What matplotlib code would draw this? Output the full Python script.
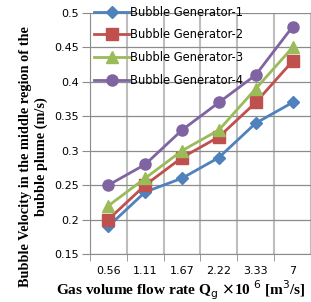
import matplotlib.pyplot as plt
import numpy as np

categories = ["0.56", "1.11", "1.67", "2.22", "3.33", "7"]
bg1 = [0.19, 0.24, 0.26, 0.29, 0.34, 0.37]
bg2 = [0.20, 0.25, 0.29, 0.32, 0.37, 0.43]
bg3 = [0.22, 0.26, 0.30, 0.33, 0.39, 0.45]
bg4 = [0.25, 0.28, 0.33, 0.37, 0.41, 0.48]
series_names = ["Bubble Generator-1", "Bubble Generator-2",
                "Bubble Generator-3", "Bubble Generator-4"]

fig = plt.figure(figsize=(3.11, 3.02), dpi=100)
ax = fig.add_axes([0.289, 0.159, 0.711, 0.798])

x = np.arange(len(categories))
styles = [("#4F81BD", "D", 6), ("#C0504D", "s", 8),
          ("#9BBB59", "^", 8), ("#8064A2", "o", 8)]
for vals, name, (c, m, ms) in zip([bg1, bg2, bg3, bg4], series_names, styles):
    ax.plot(x, vals, color=c, marker=m, markersize=ms, linewidth=2,
            label=name, zorder=3)

ax.set_xlim(-0.5, len(categories) - 0.5)
ax.set_ylim(0.15, 0.5)
ax.set_yticks(np.arange(0.15, 0.501, 0.05))
ax.set_yticklabels(["0.15", "0.2", "0.25", "0.3", "0.35", "0.4", "0.45", "0.5"])
ax.set_xticks(x)
ax.set_xticklabels(categories)
ax.set_xticks(np.arange(-0.5, len(categories) - 0.4, 1), minor=True)

ax.grid(axis="y", color="#8C8C8C", linewidth=0.9)
ax.grid(axis="x", which="minor", color="#BEBEBE", linewidth=1.5)
ax.set_axisbelow(True)

for s in ["top", "right"]:
    ax.spines[s].set_visible(False)
ax.spines["left"].set_color("#8C8C8C")
ax.spines["bottom"].set_color("#8C8C8C")

ax.tick_params(axis="y", length=6, color="#8C8C8C", labelsize=8, pad=2)
ax.tick_params(axis="x", which="major", length=0, labelsize=8, pad=9)
ax.tick_params(axis="x", which="minor", length=5, color="#8C8C8C")

# axis titles placed directly, as in the original figure
fig.text(0.083, 0.48, "Bubble Velocity in the middle region of the",
         rotation=90, ha="center", va="center", fontfamily="Liberation Serif",
         fontweight="bold", fontsize=10.3)
fig.text(0.133, 0.48, "bubble plume (m/s)",
         rotation=90, ha="center", va="center", fontfamily="Liberation Serif",
         fontweight="bold", fontsize=10.3)
fig.text(0.58, 0.022,
         r"Gas volume flow rate Q$_\mathrm{g}$ $\times$10 $^{6}$ [m$^3$/s]",
         ha="center", va="baseline", fontfamily="Liberation Serif",
         fontweight="bold", fontsize=11)

ax.legend(loc="upper left", frameon=False, fontsize=8.3, handlelength=3,
          borderaxespad=0.0, labelspacing=0.85, handletextpad=0.1,
          bbox_to_anchor=(0.0, 1.05))

fig.savefig("out.png", dpi=100)
